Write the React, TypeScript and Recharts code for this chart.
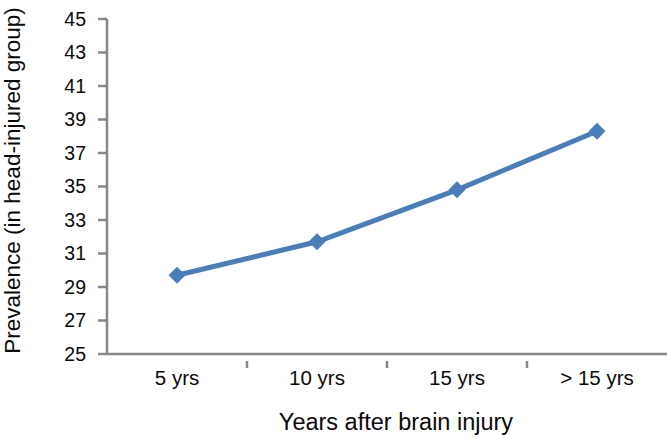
import React from 'react';
import { LineChart, Line, XAxis, YAxis, Label } from 'recharts';

const categories = ['5 yrs', '10 yrs', '15 yrs', '> 15 yrs'];
const prevalence = [29.7, 31.7, 34.8, 38.3];
const yTicks = [25, 27, 29, 31, 33, 35, 37, 39, 41, 43, 45];

const data = categories.map((c, i) => ({ name: c, value: prevalence[i] }));

const AXIS = '#878787';
const LINE = '#4a7ebb';
const TEXT = '#0a0a0a';
const FONT = '"Liberation Sans", Arial, Helvetica, sans-serif';

const XTick = (props: any) => {
  const { x, y, payload, width, index } = props;
  const band = width / categories.length;
  const isLast = index === categories.length - 1;
  return (
    <g>
      {!isLast && (
        <line x1={x + band / 2} x2={x + band / 2} y1={y - 1} y2={y + 6} stroke={AXIS} strokeWidth={2.5} />
      )}
      <text x={x} y={y + 23} textAnchor="middle" fontSize={20.5} fill={TEXT} fontFamily={FONT}>
        {payload.value}
      </text>
    </g>
  );
};

const Diamond = (props: any) => {
  const { cx, cy } = props;
  const r = 8.5;
  return <polygon points={`${cx},${cy - r} ${cx + r},${cy} ${cx},${cy + r} ${cx - r},${cy}`} fill={LINE} />;
};

export default function App() {
  return (
    <div style={{ position: 'absolute', left: 0, top: 0, background: '#fff' }}>
      <LineChart width={667} height={438} data={data} margin={{ top: 19, right: 0, bottom: 0, left: 0 }}>
        <XAxis
          dataKey="name"
          scale="band"
          height={84}
          tickLine={false}
          axisLine={{ stroke: AXIS, strokeWidth: 2.5 }}
          tick={<XTick />}
          interval={0}
        >
          <Label
            value="Years after brain injury"
            position="insideBottom"
            offset={8}
            dx={9}
            style={{ fontSize: 23.5, fill: TEXT, fontFamily: FONT }}
          />
        </XAxis>
        <YAxis
          width={107}
          domain={[25, 45]}
          ticks={yTicks}
          interval={0}
          tickSize={9}
          tickMargin={12}
          tickLine={{ stroke: AXIS, strokeWidth: 2.5 }}
          axisLine={{ stroke: AXIS, strokeWidth: 2.5 }}
          tick={{ fontSize: 19.5, fill: TEXT, fontFamily: FONT }}
        >
          <Label
            value="Prevalence (in head-injured group)"
            angle={-90}
            position="insideLeft"
            offset={12}
            dy={-6}
            style={{ fontSize: 22.5, fill: TEXT, fontFamily: FONT, textAnchor: 'middle' }}
          />
        </YAxis>
        <Line
          type="linear"
          dataKey="value"
          stroke={LINE}
          strokeWidth={5}
          dot={<Diamond />}
          activeDot={false}
          isAnimationActive={false}
        />
      </LineChart>
    </div>
  );
}
